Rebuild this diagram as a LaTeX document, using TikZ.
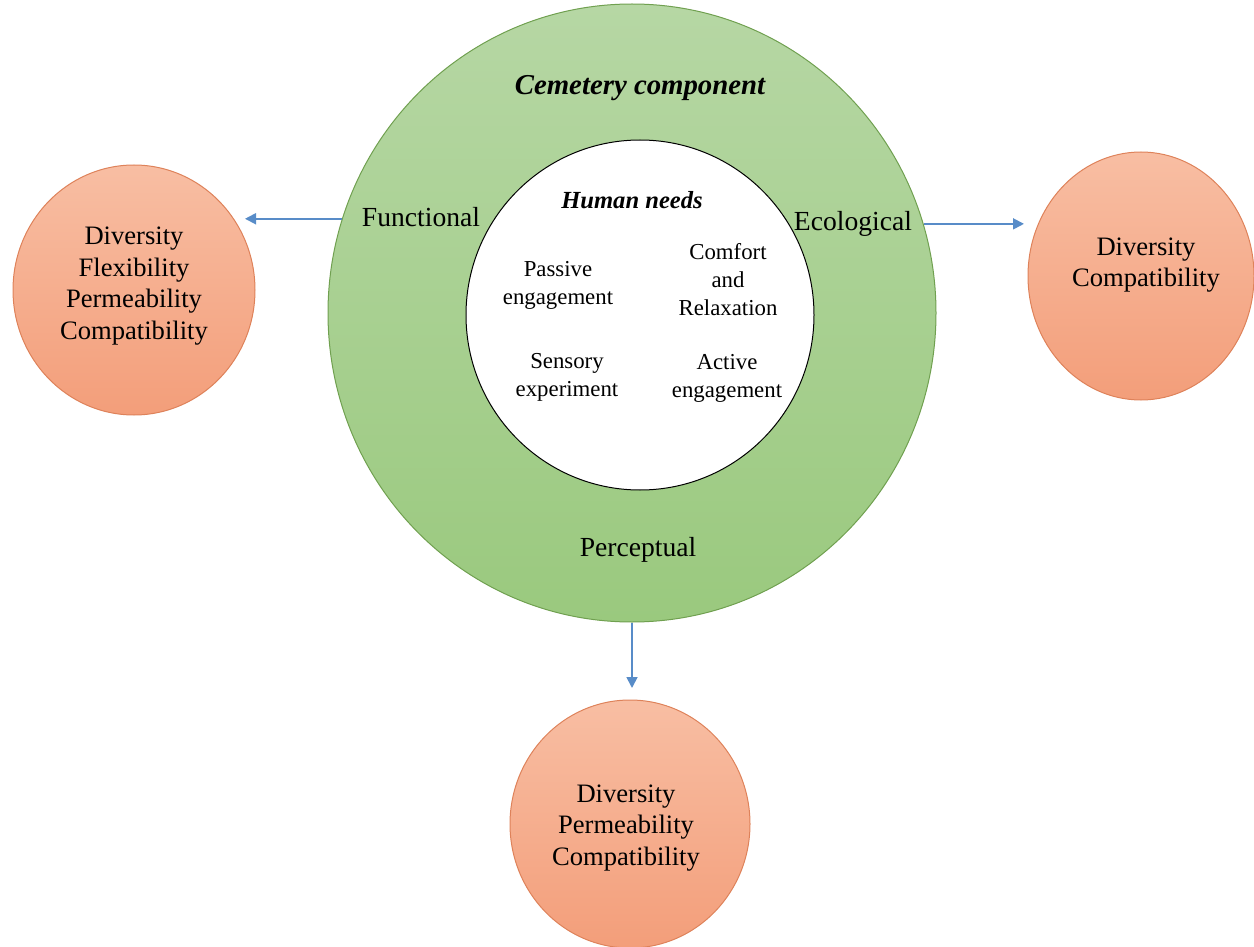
\documentclass[tikz,border=0pt]{standalone}
\usepackage{fontspec}
\setmainfont{Liberation Serif}
\usetikzlibrary{shapes.geometric,arrows.meta}

\definecolor{ringtop}{RGB}{182,215,164}
\definecolor{ringbot}{RGB}{154,201,126}
\definecolor{ringedge}{RGB}{112,160,80}
\definecolor{petaltop}{RGB}{248,190,163}
\definecolor{petalbot}{RGB}{243,158,122}
\definecolor{petaledge}{RGB}{222,130,90}
\definecolor{linkblue}{RGB}{88,140,200}

\tikzset{
  ring/.style={ellipse, draw=ringedge, line width=0.5pt, inner sep=0pt,
    top color=ringtop, bottom color=ringbot},
  core/.style={ellipse, draw=black, line width=0.5pt, fill=white, inner sep=0pt},
  petal/.style={ellipse, draw=petaledge, line width=0.5pt, inner sep=0pt,
    top color=petaltop, bottom color=petalbot},
  petaltext/.style={align=center, font=\fontsize{13.3}{15.8}\selectfont},
  aspect/.style={font=\fontsize{13.8}{16}\selectfont},
  need/.style={align=center, font=\fontsize{11.4}{14}\selectfont},
  link/.style={draw=linkblue, line width=0.9pt,
    -{Triangle[length=5.5pt,width=5.5pt,fill=linkblue]}}
}

\begin{document}
\begin{tikzpicture}[x=0.5pt,y=-0.5pt]
  \useasboundingbox (0,0) rectangle (1254,947);

  % outer ring and inner core
  \node[ring, minimum width=304pt, minimum height=309pt] (green) at (632,313) {};
  \node[core, minimum width=174pt, minimum height=175pt] (core) at (640,315) {};

  % outcome circles
  \node[petal, minimum width=121pt, minimum height=125pt] (lorange) at (134,290) {};
  \node[petal, minimum width=113pt, minimum height=124pt] (rorange) at (1141,276) {};
  \node[petal, minimum width=120pt, minimum height=124pt] (borange) at (630,824) {};

  % ring labels
  \node[font=\fontsize{14.4}{17}\selectfont\bfseries\itshape] (title) at (640,88) {Cemetery component};
  \node[aspect] (fun) at (421,217) {Functional};
  \node[aspect] (eco) at (853,224) {Ecological};
  \node[aspect] (per) at (638,550) {Perceptual};

  % core labels
  \node[font=\fontsize{12.3}{14}\selectfont\bfseries\itshape] (needs) at (632,200) {Human needs};
  \node[need] (passive) at (558,285) {Passive\\engagement};
  \node[need] (comfort) at (728,280) {Comfort\\and\\Relaxation};
  \node[need] (sensory) at (567,377) {Sensory\\experiment};
  \node[need] (active) at (727,378) {Active\\engagement};

  % outcome texts
  \node[petaltext] (ltext) at (lorange.center) [yshift=2pt] {Diversity\\Flexibility\\Permeability\\Compatibility};
  \node[petaltext] (rtext) at (1146,265) {Diversity\\Compatibility};
  \node[petaltext] (btext) at (626,828) {Diversity\\Permeability\\Compatibility};

  % arrow tips (x only; the y follows the start on the ring)
  \coordinate (ltip) at (245,217);
  \coordinate (rtip) at (1024,223);
  \coordinate (btip) at (632,688);

  % connectors, kept straight horizontal / vertical
  \draw[link] (green.162) -- (green.162 -| ltip);
  \draw[link] (green.17) -- (green.17 -| rtip);
  \draw[link] (green.south) -- (btip);
\end{tikzpicture}
\end{document}
